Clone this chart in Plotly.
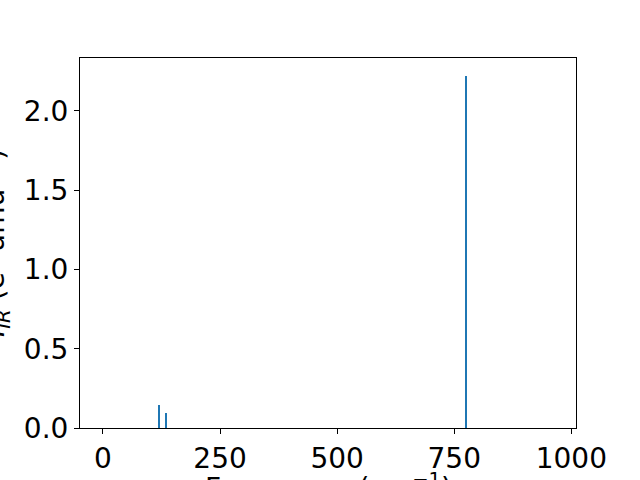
import plotly.graph_objects as go

freqs = [119.5, 134.5, 774.5]
intens = [0.145, 0.095, 2.223]
x_ticks = [0, 250, 500, 750, 1000]
y_ticks = [0.0, 0.5, 1.0, 1.5, 2.0]
y_tick_text = ["0.0", "0.5", "1.0", "1.5", "2.0"]

fig = go.Figure()
fig.add_trace(go.Bar(x=freqs, y=intens, width=2.2, marker=dict(color="#1f77b4", line=dict(width=0))))

font = "DejaVu Sans"
fs = 28
fig.update_layout(
    width=640, height=480,
    margin=dict(l=80, r=64, t=58, b=52),
    paper_bgcolor="white", plot_bgcolor="white",
    showlegend=False,
    font=dict(family=font, size=fs, color="black"),
    bargap=0,
)
fig.update_xaxes(range=[-49, 1010], tickvals=x_ticks, ticks="outside", ticklen=5, tickwidth=1,
                 tickcolor="black", showline=True, linecolor="black", linewidth=1, mirror=True,
                 showgrid=False, zeroline=False, tickfont=dict(size=fs, family=font), automargin=False)
fig.update_yaxes(range=[0, 2.334], tickvals=y_ticks, ticktext=y_tick_text, ticks="outside", ticklen=5,
                 tickwidth=1, tickcolor="black", showline=True, linecolor="black", linewidth=1,
                 mirror=True, showgrid=False, zeroline=False, tickfont=dict(size=fs, family=font), automargin=False)

fig.add_annotation(text="Frequency (cm<sup>−1</sup>)", xref="paper", yref="paper", x=0.5, y=0,
                   xanchor="center", yanchor="top", yshift=-38, showarrow=False,
                   font=dict(size=fs, family=font))
fig.add_annotation(text="<i>I</i><sub><i>IR</i></sub> (e<sup>2</sup> amu<sup>−1</sup>)", xref="paper", yref="paper",
                   x=0, y=0.5, xanchor="center", yanchor="middle", xshift=-86, textangle=-90,
                   showarrow=False, font=dict(size=fs, family=font))

fig.write_html("out.html", config={"displayModeBar": False},
               post_script="document.body.style.margin='0';document.body.style.padding='0';")
